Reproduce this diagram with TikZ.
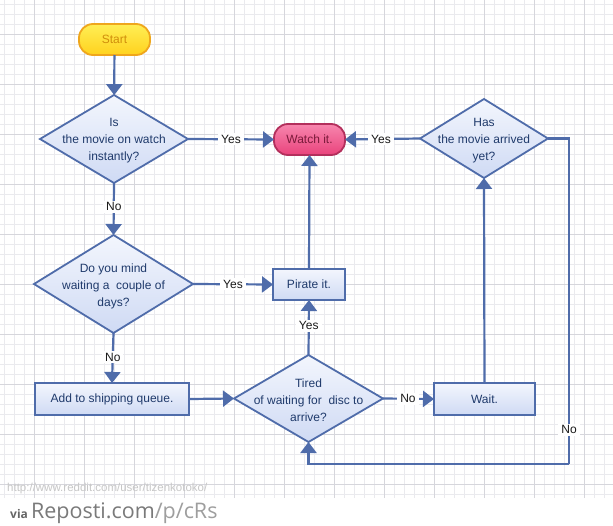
\documentclass[tikz,border=0pt]{standalone}
\usepackage{fontspec}
\setmainfont{Liberation Sans}
\newfontfamily\osans{Open Sans}
\usetikzlibrary{shapes.geometric,arrows.meta}

\definecolor{lineblue}{HTML}{4F6CAA}
\definecolor{textblue}{HTML}{1F3A6B}
\definecolor{boxtop}{HTML}{F3F6FD}
\definecolor{boxbot}{HTML}{CFDAF4}
\definecolor{ytop}{HTML}{FFEE55}
\definecolor{ybot}{HTML}{FFD21E}
\definecolor{yline}{HTML}{EFA61C}
\definecolor{ytext}{HTML}{D08E0C}
\definecolor{ptop}{HTML}{F786AE}
\definecolor{pbot}{HTML}{E9437C}
\definecolor{pline}{HTML}{B32F5C}
\definecolor{ptext}{HTML}{7A1A3A}
\definecolor{gridminor}{HTML}{EAEAEE}
\definecolor{gridmajor}{HTML}{D6D6DC}

\begin{document}
\begin{tikzpicture}[x=1pt,y=-1pt,
  txt/.style={font=\fontsize{12}{17}\selectfont,text=textblue,align=center},
  dia/.style={diamond,draw=lineblue,line width=1.8pt,top color=boxtop,bottom color=boxbot,
              inner sep=0pt,outer sep=0pt},
  procbox/.style={rectangle,draw=lineblue,line width=1.8pt,top color=boxtop,bottom color=boxbot,
              inner sep=0pt,outer sep=0pt,minimum height=32pt,txt},
  startpill/.style={rectangle,rounded corners=14pt,draw=yline,line width=1.8pt,top color=ytop,bottom color=ybot,
              minimum width=71pt,minimum height=31pt,inner sep=0pt,outer sep=0pt,
              font=\fontsize{12}{14}\selectfont,text=ytext},
  watchpill/.style={rectangle,rounded corners=14pt,draw=pline,line width=1.8pt,top color=ptop,bottom color=pbot,
              minimum width=71pt,minimum height=31pt,inner sep=0pt,outer sep=0pt,
              font=\fontsize{12}{14}\selectfont,text=ptext},
  conn/.style={draw=lineblue,line width=2.2pt,-{Triangle[width=16pt,length=11pt]}},
  plain/.style={draw=lineblue,line width=2.2pt},
  lbl/.style={fill=white,inner xsep=3pt,inner ysep=2pt,font=\fontsize{12}{14}\selectfont,text=black!90}
]
\useasboundingbox (0,0) rectangle (613,525);
\fill[white] (0,0) rectangle (613,525);
% grid
\foreach \x in {4,14,...,613} \draw[gridminor,line width=0.7pt] (\x,0) -- (\x,498);
\foreach \y in {4,14,...,498} \draw[gridminor,line width=0.7pt] (0,\y) -- (613,\y);
\foreach \x in {34,84,...,613} \draw[gridmajor,line width=0.7pt] (\x,0) -- (\x,498);
\foreach \y in {34,84,...,498} \draw[gridmajor,line width=0.7pt] (0,\y) -- (613,\y);

% nodes
\node[startpill] (start) at (114.5,39.5) {Start};
\node[dia,minimum width=148pt,minimum height=88pt,
      label={[txt,yshift=-2pt]center:{Is\\the movie on watch\\instantly?}}] (d1) at (114,139) {};
\node[watchpill] (watch) at (309.5,139.5) {Watch it.};
\node[dia,minimum width=128pt,minimum height=79pt,
      label={[txt,yshift=-2pt]center:{Has\\the movie arrived\\yet?}}] (has) at (484,138.5) {};
\node[dia,minimum width=159pt,minimum height=98pt,
      label={[txt,yshift=-2pt]center:{Do you mind\\waiting a\ \ couple of\\days?}}] (d2) at (113.5,284) {};
\node[procbox,minimum width=72pt,minimum height=31pt] (pirate) at (309,284.5) {Pirate it.};
\node[procbox,minimum width=154pt] (add) at (112,399) {Add to shipping queue.};
\node[dia,minimum width=149pt,minimum height=87pt,
      label={[txt,yshift=-2pt]center:{Tired\\of waiting for\ \ disc to\\arrive?}}] (tired) at (308.5,398.5) {};
\node[procbox,minimum width=101pt] (wait) at (484.5,399) {Wait.};

\coordinate (rtop) at (569,138.5);
\coordinate (rbot) at (569,464);

% connectors
\draw[conn] (start) -- (d1);
\draw[conn] (d1.east) -- node[lbl,pos=0.5] {Yes} (watch.west);
\draw[conn] (d1.south) -- node[lbl,pos=0.46] {No} (d2.north);
\draw[conn] (d2.east) -- node[lbl,pos=0.5] {Yes} (pirate.west);
\draw[conn] (d2.south) -- node[lbl,pos=0.48] {No} (add.north);
\draw[conn] (add.east) -- (tired.west);
\draw[conn] (tired.east) -- node[lbl,pos=0.49] {No} (wait.west);
\draw[conn] (tired.north) -- node[lbl,pos=0.53] {Yes} (pirate.south);
\draw[conn] (pirate.north) -- (watch.south);
\draw[conn] (wait.north) -- (has.south);
\draw[conn] (has.west) -- node[lbl,pos=0.52] {Yes} (watch.east);
\draw[plain] (has.east) -- (rtop) -- node[lbl,pos=0.895] {No} (rbot);
\draw[conn] (rbot) -| (tired.south);

% watermark texts
\node[anchor=base west,inner sep=0pt,font=\fontsize{11.5}{13}\selectfont,text=black!22] (wm) at (7,491) {http://www.reddit.com/user/tizenkotoko/};
\node[anchor=base west,inner sep=0pt] (via) at (10,518)
  {\osans{\fontsize{12}{14}\selectfont\bfseries\color{black!60}via }{\fontsize{21.5}{24}\selectfont\color{black!52}Reposti.com}{\fontsize{21.5}{24}\selectfont\color{black!38}/p/cRs}};
\end{tikzpicture}
\end{document}
